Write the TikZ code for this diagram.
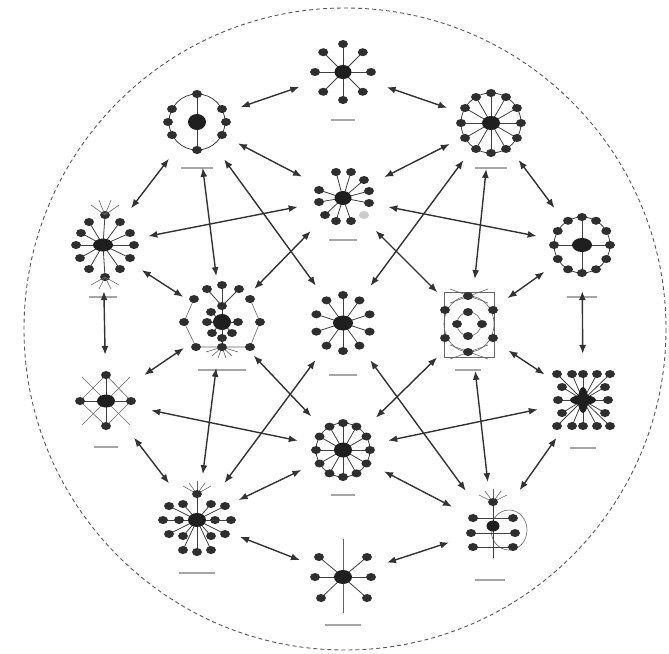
\documentclass[tikz,border=0pt]{standalone}
\usepackage{tikz}
\usetikzlibrary{arrows.meta}

\begin{document}
\begin{tikzpicture}[x=1pt,y=-1pt,
  hub/.style={circle,minimum size=92pt,inner sep=0pt},
  link/.style={{Latex[length=9pt,width=7pt]}-{Latex[length=9pt,width=7pt]},line width=1.4pt,black!80},
  spoke/.style={black!75,line width=0.8pt},
  thinline/.style={black!60,line width=0.6pt},
  leaf/.style={fill=black!82},
  core/.style={fill=black!88},
  tag/.style={black!35,line width=2.5pt}]
  \useasboundingbox (0,0) rectangle (669,653);
  \draw[black!65,dash pattern=on 4pt off 3pt,line width=0.9pt] (345,329) circle (321);

  % cluster anchors
  \node[hub] (top) at (343,72) {};
  \node[hub] (nw)  at (197,122) {};
  \node[hub] (ne)  at (491,123) {};
  \node[hub] (up)  at (343,198) {};
  \node[hub] (w)   at (103,245) {};
  \node[hub] (e)   at (582,245) {};
  \node[hub] (iw)  at (222,322) {};
  \node[hub] (mid) at (343,323) {};
  \node[hub] (ie)  at (470,325) {};
  \node[hub] (sw)  at (106,401) {};
  \node[hub] (se)  at (583,400) {};
  \node[hub] (low) at (343,450) {};
  \node[hub] (bsw) at (197,520) {};
  \node[hub] (bot) at (343,577) {};
  \node[hub] (bse) at (493,528) {};

  % top star
  \begin{scope}[shift={(top.center)}]
    \foreach \a in {0,45,...,315} {
      \draw[spoke] (0,0) -- (\a:28);
      \fill[leaf] (\a:28) ellipse (5 and 4);
    }
    \fill[core] (0,0) ellipse (8.5 and 7);
    \draw[tag] (-12,48) -- (12,48);
  \end{scope}

  % ring with axis
  \begin{scope}[shift={(nw.center)}]
    \draw[spoke] (0,0) circle (28);
    \draw[spoke] (0,-28) -- (0,28);
    \foreach \x/\y in {0/-28,0/28,-29/0,29/0,-25/-13,25/-13,-25/13,25/13}
      \fill[leaf] (\x,\y) ellipse (5 and 4);
    \fill[core] (0,0) ellipse (9 and 8);
    \draw[tag] (-16,46) -- (16,46);
  \end{scope}

  % wheel
  \begin{scope}[shift={(ne.center)}]
    \draw[spoke] (0,0) circle (30);
    \foreach \a in {0,30,...,330} {
      \draw[spoke] (0,0) -- (\a:30);
      \fill[leaf] (\a:30) ellipse (5 and 4);
    }
    \fill[core] (0,0) ellipse (9 and 7);
    \draw[tag] (-16,45) -- (16,45);
  \end{scope}

  % upper star
  \begin{scope}[shift={(up.center)}]
    \foreach \x/\y in {-7/-26,8/-26,21/-18,26/-7,26/5,-24/-8,-24/4,-18/17,-7/23,8/23} {
      \draw[spoke] (0,0) -- (\x,\y);
      \fill[leaf] (\x,\y) ellipse (5 and 4);
    }
    \fill[black!20] (21,17) ellipse (5 and 4);
    \fill[core] (0,0) ellipse (8.5 and 7);
    \draw[tag] (-14,42) -- (14,42);
  \end{scope}

  % fan star
  \begin{scope}[shift={(w.center)}]
    \foreach \x/\y in {-14/-23,17/-23,-22/-12,27/-12,-27/0,31/0,-23/13,27/13,-14/24,17/24,2/-30,2/32} {
      \draw[spoke] (0,0) -- (\x,\y);
      \fill[leaf] (\x,\y) ellipse (5 and 4);
    }
    \foreach \x/\y in {-12/-40,16/-40,-4/-45,8/-45} \draw[thinline] (2,-30) -- (\x,\y);
    \foreach \x/\y in {-12/40,16/40,-4/44,8/44} \draw[thinline] (2,32) -- (\x,\y);
    \fill[core] (0,0) ellipse (10 and 6.5);
    \draw[tag] (-14,52) -- (14,52);
  \end{scope}

  % ring with cross
  \begin{scope}[shift={(e.center)}]
    \draw[spoke] (0,0) circle (28);
    \draw[spoke] (-28,0) -- (28,0);
    \draw[spoke] (0,-28) -- (0,28);
    \foreach \a in {0,30,...,330}
      \fill[leaf] (\a:28) ellipse (5 and 4);
    \fill[core] (0,0) ellipse (10 and 7);
    \draw[tag] (-15,52) -- (15,52);
  \end{scope}

  % nested cluster
  \begin{scope}[shift={(iw.center)}]
    \draw[thinline] (-28,-23) -- (-38,0) -- (-26,25) -- (28,25) -- (38,0) -- (28,-23);
    \foreach \x/\y in {-15/-33,0/-37,17/-33} \draw[spoke] (0,-16) -- (\x,\y);
    \foreach \x/\y in {-10/34,-4/36,4/36,10/34,-16/30,16/30} \draw[thinline] (0,25) -- (\x,\y);
    \foreach \x/\y in {-11/-10,0/-16,16/0,-15/0,-10/11,10/11,0/16} {
      \draw[spoke] (0,0) -- (\x,\y);
      \fill[leaf] (\x,\y) ellipse (5 and 4);
    }
    \draw[spoke] (0,16) -- (0,25);
    \foreach \x/\y in {-15/-33,0/-37,17/-33,-28/-23,28/-23,-38/0,38/0,-26/25,0/25,28/25}
      \fill[leaf] (\x,\y) ellipse (5 and 4);
    \fill[core] (0,0) ellipse (9 and 8);
    \draw[tag] (-24,48) -- (24,48);
  \end{scope}

  % central star
  \begin{scope}[shift={(mid.center)}]
    \foreach \a in {-90,-54,...,234} {
      \draw[spoke] (0,0) -- (\a:28);
      \fill[leaf] (\a:28) ellipse (5 and 4);
    }
    \fill[core] (0,0) ellipse (10 and 7.5);
    \draw[tag] (-14,52) -- (14,52);
  \end{scope}

  % framed rings
  \begin{scope}[shift={(ie.center)}]
    \draw[thinline] (-26,-33) rectangle (24,32);
    \draw[thinline] (-1,-1) ellipse (25 and 28);
    \draw[thinline] (-1,-1) circle (12);
    \draw[thinline] (-20,-36) -- (18,-22) (18,-36) -- (-20,-22);
    \draw[thinline] (-20,34) -- (18,20) (18,34) -- (-20,20);
    \foreach \x/\y in {-2/-29,-2/27,-25/-15,-25/13,23/-15,23/13,-2/-13,-13/-1,12/-1,-2/11}
      \fill[leaf] (\x,\y) ellipse (5 and 4);
    \draw[tag] (-15,45) -- (11,45);
  \end{scope}

  % diamond
  \begin{scope}[shift={(sw.center)}]
    \draw[thinline] (-24,-24) -- (24,24) (24,-24) -- (-24,24);
    \draw[thinline] (0,-26) -- (25,0) -- (0,25) -- (-26,0) -- cycle;
    \foreach \x/\y in {0/-26,0/25,-26/0,25/0} {
      \draw[spoke] (0,0) -- (\x,\y);
      \fill[leaf] (\x,\y) ellipse (5 and 4);
    }
    \fill[core] (0,0) ellipse (9 and 6.5);
    \draw[tag] (-12,46) -- (12,46);
  \end{scope}

  % square star
  \begin{scope}[shift={(se.center)}]
    \foreach \x/\y in {-26/-26,-11/-26,0/-26,14/-26,27/-26,-21/-13,22/-13,-25/0,25/0,-21/13,22/13,-26/26,-11/26,0/26,14/26,27/26} {
      \draw[spoke] (0,0) -- (\x,\y);
      \fill[leaf] (\x,\y) ellipse (5 and 4);
    }
    \fill[core] (0,0) ellipse (5 and 13);
    \fill[core] (0,0) ellipse (13 and 5);
    \fill[core] (0,0) circle (7);
    \draw[tag] (-13,48) -- (13,48);
  \end{scope}

  % lower wheel
  \begin{scope}[shift={(low.center)}]
    \draw[spoke] (0,0) circle (27);
    \foreach \a in {0,30,...,330} {
      \draw[spoke] (0,0) -- (\a:27);
      \fill[leaf] (\a:27) ellipse (5 and 4);
    }
    \fill[core] (0,0) ellipse (9 and 7.5);
    \draw[tag] (-12,45) -- (12,45);
  \end{scope}

  % dense fan
  \begin{scope}[shift={(bsw.center)}]
    \foreach \x/\y in {-8/-37,8/-37,0/-39,-14/-34,14/-34} \draw[thinline] (0,-26) -- (\x,\y);
    \foreach \x/\y in {-28/-14,-14/-16,14/-16,28/-14,-34/0,-18/0,18/0,34/0,-28/14,-14/16,14/16,28/14,-14/30,0/32,14/30,0/-26} {
      \draw[spoke] (0,0) -- (\x,\y);
      \fill[leaf] (\x,\y) ellipse (5 and 4);
    }
    \fill[core] (0,0) ellipse (9 and 7);
    \draw[tag] (-18,53) -- (18,53);
  \end{scope}

  % bottom star
  \begin{scope}[shift={(bot.center)}]
    \draw[thinline] (0,-38) -- (0,36);
    \foreach \x/\y in {-24/-20,24/-20,-28/0,28/0,-22/21,24/21} {
      \draw[spoke] (0,0) -- (\x,\y);
      \fill[leaf] (\x,\y) ellipse (5 and 4);
    }
    \fill[core] (0,0) ellipse (9 and 7);
    \draw[tag] (-18,48) -- (18,48);
  \end{scope}

  % column with loop
  \begin{scope}[shift={(bse.center)}]
    \draw[thinline] (16,2) ellipse (18 and 20);
    \draw[spoke] (0,-26) -- (0,30);
    \foreach \x/\y in {-8/-37,8/-37,0/-39,-14/-33,14/-33} \draw[thinline] (0,-26) -- (\x,\y);
    \foreach \x/\y in {-20/-10,20/-10,-22/5,22/5,-20/19,20/19} {
      \draw[spoke] (0,\y) -- (\x,\y);
      \fill[leaf] (\x,\y) ellipse (5 and 4);
    }
    \fill[leaf] (0,-26) ellipse (5 and 4);
    \fill[core] (0,-2) ellipse (6.5 and 5.5);
    \draw[tag] (-18,52) -- (12,52);
  \end{scope}

  % links
  \draw[link] (top) -- (nw);
  \draw[link] (top) -- (ne);
  \draw[link] (nw) -- (up);
  \draw[link] (ne) -- (up);
  \draw[link] (nw) -- (w);
  \draw[link] (ne) -- (e);
  \draw[link] (w) -- (up);
  \draw[link] (e) -- (up);
  \draw[link] (nw) -- (iw);
  \draw[link] (ne) -- (ie);
  \draw[link] (nw) -- (mid);
  \draw[link] (ne) -- (mid);
  \draw[link] (up) -- (iw);
  \draw[link] (up) -- (ie);
  \draw[link] (w) -- (sw);
  \draw[link] (e) -- (se);
  \draw[link] (w) -- (iw);
  \draw[link] (e) -- (ie);
  \draw[link] (sw) -- (iw);
  \draw[link] (se) -- (ie);
  \draw[link] (sw) -- (low);
  \draw[link] (se) -- (low);
  \draw[link] (iw) -- (bsw);
  \draw[link] (ie) -- (bse);
  \draw[link] (iw) -- (low);
  \draw[link] (ie) -- (low);
  \draw[link] (mid) -- (bsw);
  \draw[link] (mid) -- (bse);
  \draw[link] (sw) -- (bsw);
  \draw[link] (se) -- (bse);
  \draw[link] (bsw) -- (low);
  \draw[link] (bse) -- (low);
  \draw[link] (bsw) -- (bot);
  \draw[link] (bse) -- (bot);
\end{tikzpicture}
\end{document}
